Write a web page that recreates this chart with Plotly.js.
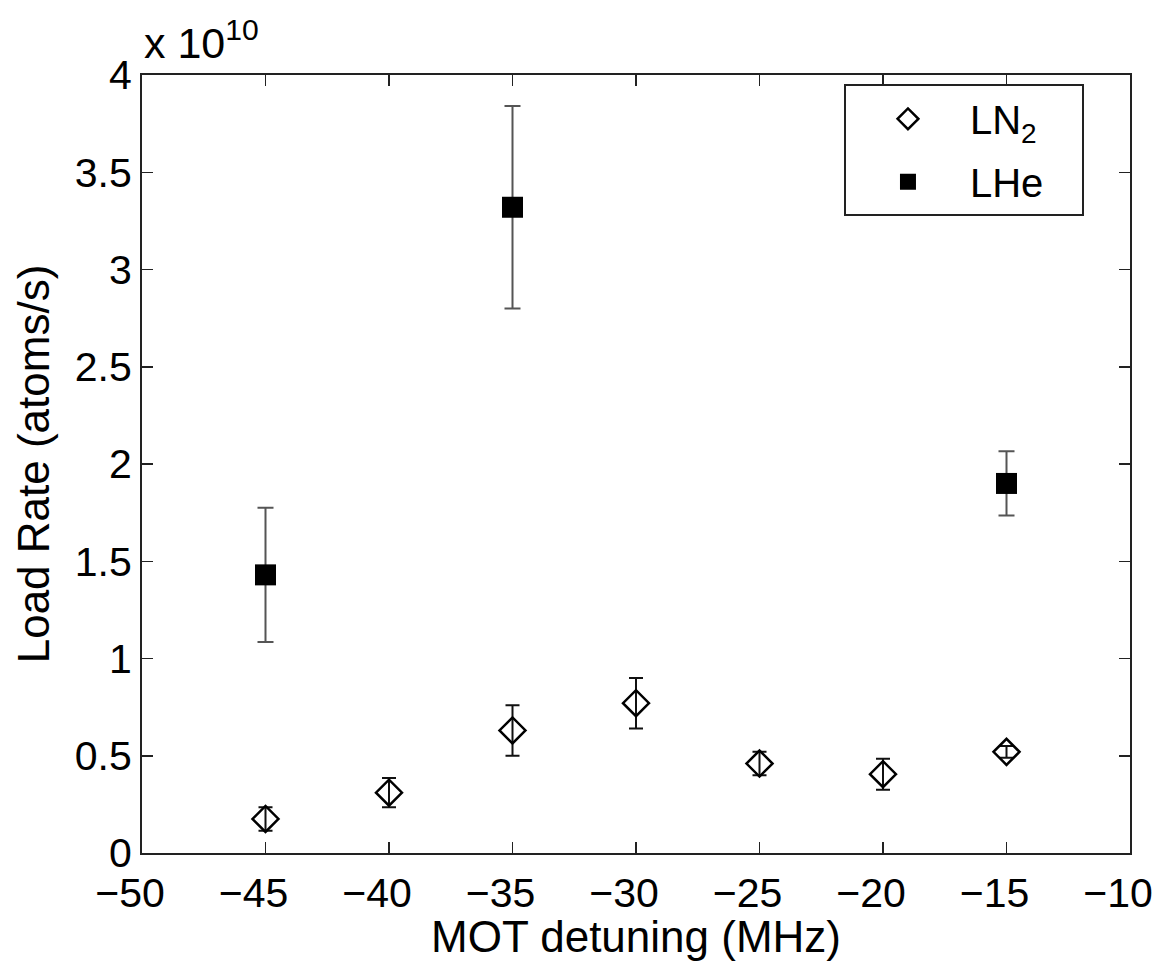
<!DOCTYPE html>
<html>
<head>
<meta charset="utf-8">
<script src="https://cdn.plot.ly/plotly-3.0.1.min.js"></script>
<style>
html,body{margin:0;padding:0;background:#fff;}
#chart{width:1162px;height:961px;}
</style>
</head>
<body>
<div id="chart"></div>
<script>
// Data (load rate in units of 1e10 atoms/s)
const ln2Detuning = [-45, -40, -35, -30, -25, -20, -15];
const ln2Rate     = [0.175, 0.31, 0.63, 0.77, 0.46, 0.405, 0.52];
const ln2Err      = [0.06, 0.075, 0.13, 0.13, 0.06, 0.08, 0.03];

const lheDetuning = [-45, -35, -15];
const lheRate     = [1.43, 3.32, 1.90];
const lheErr      = [0.345, 0.52, 0.165];

const xTicks = [-50, -45, -40, -35, -30, -25, -20, -15, -10];
const xTickLabels = ['\u221250', '\u221245', '\u221240', '\u221235', '\u221230', '\u221225', '\u221220', '\u221215', '\u221210'];
const yTicks = [0, 0.5, 1, 1.5, 2, 2.5, 3, 3.5, 4];
const yTickLabels = ['0', '0.5', '1', '1.5', '2', '2.5', '3', '3.5', '4'];

const FONT = 'Liberation Sans, Arial, Helvetica, sans-serif';
const XFS = 41;
const YFS = 41;
const TFS = 44;
const NB = '\u00a0';

const traces = [
  {
    x: ln2Detuning, y: ln2Rate, type: 'scatter', mode: 'markers',
    name: 'LN<sub>2</sub>', legendgroup: 'a',
    marker: {symbol: 'diamond-open', size: 20, color: '#000', line: {width: 2.5, color: '#000'}},
    error_y: {type: 'data', array: ln2Err, visible: true, color: '#111', thickness: 2, width: 7}
  },
  {
    x: lheDetuning, y: lheRate, type: 'scatter', mode: 'markers',
    name: 'LHe' + NB + NB + NB, legendgroup: 'b',
    marker: {symbol: 'square', size: 21, color: '#000'},
    error_y: {type: 'data', array: lheErr, visible: true, color: '#555', thickness: 2, width: 8}
  }
];

const axisCommon = {
  showline: true, linecolor: '#222', linewidth: 2, mirror: 'ticks',
  ticks: 'inside', ticklen: 11, tickwidth: 1.5, tickcolor: '#222',
  showgrid: false, zeroline: false
};

const layout = {
  width: 1162, height: 961,
  margin: {l: 142, r: 32, t: 75, b: 108},
  paper_bgcolor: '#fff', plot_bgcolor: '#fff',
  showlegend: true,
  legend: {
    x: 0.7105, y: 0.988, xanchor: 'left', yanchor: 'top',
    bordercolor: '#222', borderwidth: 2, bgcolor: '#fff',
    font: {family: FONT, size: 40, color: '#000'},
    itemwidth: 114, traceorder: 'grouped', tracegroupgap: 8
  },
  xaxis: Object.assign({}, axisCommon, {
    range: [-50, -10], tickmode: 'array', tickvals: xTicks, ticktext: xTickLabels,
    ticklabelshift: -12, ticklabelstandoff: 3,
    ticklabeloverflow: 'allow',
    tickfont: {family: FONT, size: XFS, color: '#000'},
    title: {text: 'MOT detuning (MHz)', font: {family: FONT, size: TFS, color: '#000'}, standoff: 20}
  }),
  yaxis: Object.assign({}, axisCommon, {
    range: [0, 4], tickmode: 'array', tickvals: yTicks, ticktext: yTickLabels,
    ticklabeloverflow: 'allow',
    tickfont: {family: FONT, size: YFS, color: '#000'},
    title: {text: 'Load Rate (atoms/s)', font: {family: FONT, size: TFS, color: '#000'}, standoff: 11}
  }),
  annotations: [
    {xref: 'paper', yref: 'paper', x: 0, y: 1, xanchor: 'left', yanchor: 'bottom', yshift: 6, xshift: 0,
     text: 'x 10<sup>10</sup>', showarrow: false, font: {family: FONT, size: 43, color: '#000'}}
  ]
};

Plotly.newPlot('chart', traces, layout, {displayModeBar: false, staticPlot: true});
</script>
</body>
</html>
